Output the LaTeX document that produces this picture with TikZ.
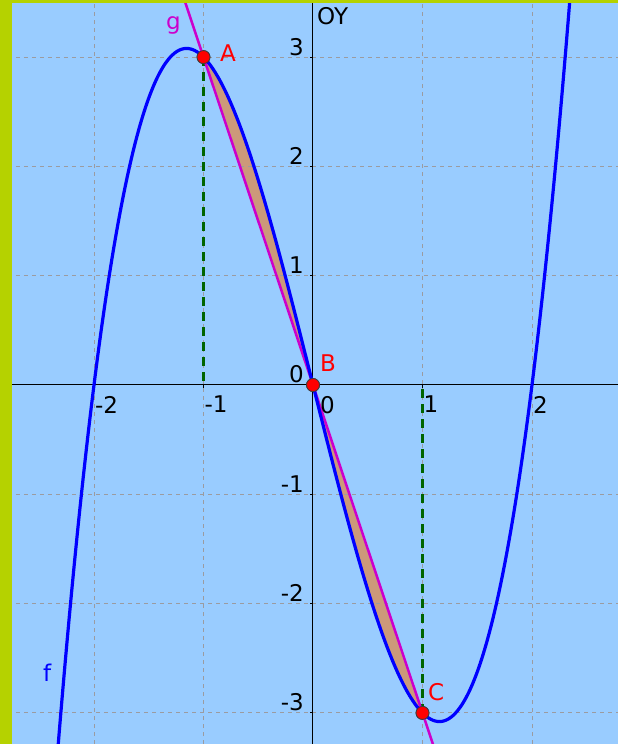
\documentclass[tikz,border=0pt]{standalone}
\usepackage{fontspec}
\setmainfont{DejaVu Sans}
\definecolor{bgblue}{RGB}{153,204,255}
\definecolor{strip}{RGB}{181,210,0}
\definecolor{shadecol}{RGB}{204,153,122}
\definecolor{gridcol}{RGB}{155,155,160}
\definecolor{dgreen}{RGB}{0,100,0}
\definecolor{magen}{RGB}{204,0,204}
\begin{document}
\begin{tikzpicture}[x=109.5pt,y=109.3pt,
  gridline/.style={draw=gridcol, line width=0.9pt, dash pattern=on 4pt off 4pt},
  axisline/.style={draw=black, line width=1pt},
  dashgreen/.style={draw=dgreen, line width=3pt, dash pattern=on 9pt off 6pt},
  fcurve/.style={draw=blue, line width=3.2pt},
  gline/.style={draw=magen, line width=2.5pt},
  ptnode/.style={circle, fill=red, draw={rgb,255:red,60;green,60;blue,60}, line width=0.8pt, minimum size=13pt, inner sep=0pt},
  lbl/.style={inner sep=0pt, font=\fontsize{23}{27}\selectfont},
  ticklbl/.style={lbl, text=black}]
\useasboundingbox (-2.8584,-3.2845) rectangle (2.7854,3.5224);
\fill[bgblue] (-2.8584,-3.2845) rectangle (2.7854,3.5224);
\begin{scope}
\clip (-2.8584,-3.2845) rectangle (2.7854,3.5224);
% shaded region between f and g
\fill[shadecol] plot[domain=-1:1, samples=120] (\x,{\x*\x*\x-4*\x}) -- cycle;
% grid
\foreach \gx in {-2,-1,1,2} \draw[gridline] (\gx,-3.2845) -- (\gx,3.5224);
\foreach \gy in {-3,-2,-1,1,2,3} \draw[gridline] (-2.8584,\gy) -- (2.7854,\gy);
% axes
\draw[axisline] (-2.8584,0) -- (2.7854,0);
\draw[axisline] (0,-3.2845) -- (0,3.5224);
\foreach \gy in {-3,-2,-1,1,2,3} \draw[axisline] (0,\gy) -- ++(-3pt,0);
\foreach \gx in {-2,-1,1,2} \draw[axisline] (\gx,0) -- ++(0,-3pt);
% points (named) and dashed verticals
\node[ptnode] (A) at (-1,3) {};
\node[ptnode] (B) at (0,0) {};
\node[ptnode] (C) at (1,-3) {};
\coordinate (A0) at (-1,0);
\coordinate (C0) at (1,0);
\draw[dashgreen] (A.center) -- (A0);
\draw[dashgreen] (C.center) -- (C0);
% line g
\coordinate (gtop) at (-1.2,3.6);
\coordinate (gbot) at (1.12,-3.36);
\draw[gline] (gtop) -- (gbot);
% curve f
\draw[fcurve] plot[domain=-2.45:2.45, samples=240, smooth] (\x,{\x*\x*\x-4*\x});
% redraw points on top
\node[ptnode] at (A) {};
\node[ptnode] at (B) {};
\node[ptnode] at (C) {};
\end{scope}
% tick labels
\node[ticklbl, anchor=north west] (xm2) at ([xshift=1pt,yshift=-11pt]-2,0) {-2};
\node[ticklbl, anchor=north west] (xm1) at ([xshift=1pt,yshift=-11pt]-1,0) {-1};
\node[ticklbl, anchor=north west] (x0) at ([xshift=7pt,yshift=-11pt]0,0) {0};
\node[ticklbl, anchor=north west] (x1) at ([xshift=1pt,yshift=-11pt]1,0) {1};
\node[ticklbl, anchor=north west] (x2) at ([xshift=1pt,yshift=-11pt]2,0) {2};
\foreach \gy/\nm in {3/y3,2/y2,1/y1,0/y0,-1/ym1,-2/ym2,-3/ym3}
  \node[ticklbl, anchor=south east] (\nm) at ([xshift=-9pt,yshift=1.5pt]0,\gy) {\gy};
\node[ticklbl, anchor=north west] (oy) at (4pt,378pt) {OY};
% object labels
\node[lbl, text=red, anchor=south west] (lA) at (-93pt,323pt) {A};
\node[lbl, text=red, anchor=south west] (lB) at (7pt,13pt) {B};
\node[lbl, text=red, anchor=south west] (lC) at (115pt,-316pt) {C};
\node[lbl, text=magen, anchor=base west] (lg) at (-147pt,355pt) {g};
\node[lbl, text=blue, anchor=base west] (lf) at (-270pt,-296pt) {f};
% frame strips
\fill[strip] (-313pt,-359pt) rectangle (-301pt,385pt);
\fill[strip] (-313pt,382pt) rectangle (305pt,385pt);
\end{tikzpicture}
\end{document}
